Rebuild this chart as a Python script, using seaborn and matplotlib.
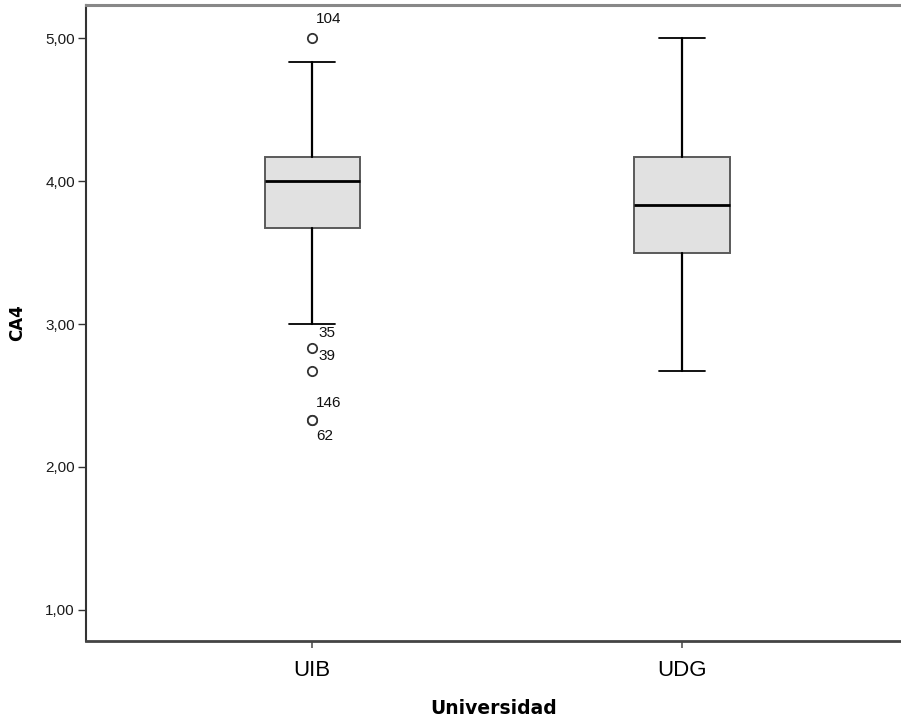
import matplotlib
matplotlib.use("Agg")
import matplotlib.pyplot as plt
import seaborn as sns
import pandas as pd

# Summary statistics of CA4 per university
universidades = ["UIB", "UDG"]
whisker_low = [3.00, 2.67]
q1 = [3.67, 3.50]
median = [4.00, 3.83]
q3 = [4.17, 4.17]
whisker_high = [4.83, 5.00]

# Outlying cases (case number labels)
outlier_group = ["UIB", "UIB", "UIB", "UIB", "UIB"]
outlier_value = [5.00, 2.83, 2.67, 2.33, 2.33]
outlier_case = ["104", "35", "39", "146", "62"]
outlier_offset = [(4, 19), (6, 15), (6, 15), (4, 17), (4, -16)]

yticks = [1.0, 2.0, 3.0, 4.0, 5.0]

sns.set_theme(style="ticks")
plt.rcParams["font.family"] = ["Liberation Sans", "DejaVu Sans"]

fig = plt.figure(figsize=(9.01, 7.22), dpi=100)
ax = fig.add_axes([86 / 901, 1 - 641 / 722, 1 - 86 / 901, (641 - 5) / 722])

stats = []
for i, name in enumerate(universidades):
    stats.append({
        "label": name,
        "whislo": whisker_low[i],
        "q1": q1[i],
        "med": median[i],
        "q3": q3[i],
        "whishi": whisker_high[i],
        "fliers": [],
    })

ax.bxp(
    stats,
    positions=range(len(universidades)),
    widths=0.257,
    patch_artist=True,
    showfliers=False,
    boxprops=dict(facecolor="#e1e1e1", edgecolor="#5a5a5a", linewidth=1.4),
    medianprops=dict(color="black", linewidth=2.0),
    whiskerprops=dict(color="black", linewidth=1.6),
    capprops=dict(color="black", linewidth=1.3),
    capwidths=0.125,
)

# Outliers as open circles
df_out = pd.DataFrame({
    "x": [universidades.index(g) for g in outlier_group],
    "y": outlier_value,
})
sns.scatterplot(data=df_out, x="x", y="y", ax=ax, marker="o", s=45,
                facecolor="white", edgecolor="#333333", linewidth=1.3,
                zorder=5, legend=False)

for g, v, c, off in zip(outlier_group, outlier_value, outlier_case, outlier_offset):
    ax.annotate(c, xy=(universidades.index(g), v), xytext=off,
                textcoords="offset pixels", ha="left", va="center",
                fontsize=11, color="#111111")

ax.set_xlim(-0.611, 1.592)
ax.set_ylim(0.783, 5.231)
ax.set_xticks(range(len(universidades)))
ax.set_xticklabels(universidades, fontsize=16, color="black")
ax.set_yticks(yticks)
ax.set_yticklabels([f"{t:.2f}".replace(".", ",") for t in yticks],
                   fontsize=11, color="#1a1a1a")

ax.tick_params(axis="y", length=6, width=1.0, color="#333333", pad=2)
ax.tick_params(axis="x", length=5, width=1.2, color="#555555", pad=9)

ax.set_xlabel("Universidad", fontsize=13.5, fontweight="bold",
              family="DejaVu Sans", color="black", labelpad=13)
ax.set_ylabel("CA4", fontsize=12, fontweight="bold",
              family="DejaVu Sans", color="black", labelpad=14)

ax.spines["right"].set_visible(False)
ax.spines["top"].set_color("#888888")
ax.spines["top"].set_linewidth(2.2)
ax.spines["left"].set_color("#333333")
ax.spines["left"].set_linewidth(1.5)
ax.spines["bottom"].set_color("#444444")
ax.spines["bottom"].set_linewidth(2.0)

fig.savefig("out.png", dpi=100)
